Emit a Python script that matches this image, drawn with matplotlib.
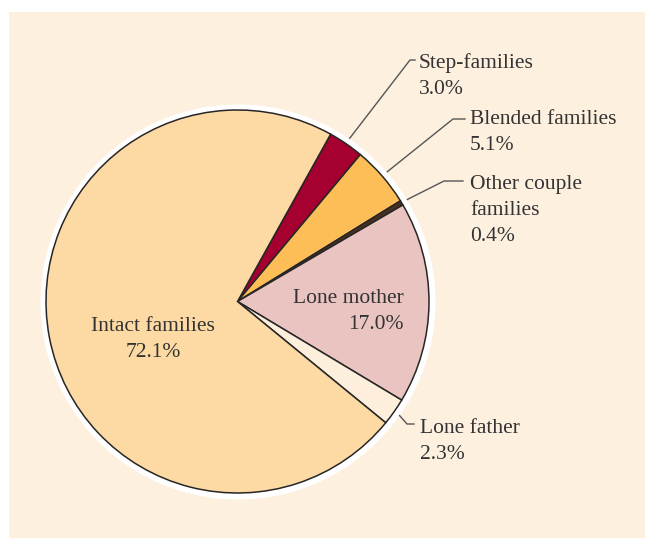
import matplotlib.pyplot as plt
from matplotlib.patches import Rectangle, Circle
import numpy as np

# family types, clockwise from the top
labels = ["Step-families", "Blended families", "Other couple\nfamilies",
          "Lone mother", "Lone father", "Intact families"]
shares = [3.0, 5.1, 0.4, 17.0, 2.3, 72.1]
colors = ["#A5002F", "#FDBE58", "#4a3020", "#E9C4C0", "#FDEFDC", "#FDD9A4"]

W, H = 646, 539
CX, CY, R = 237.5, 237.5, 191.5   # pie centre/radius in pixel units (y up)
START = 60.9

plt.rcParams["font.family"] = ["Liberation Serif", "DejaVu Serif"]
TXT = "#333333"
FS = 15.5
LS = 1.5

fig = plt.figure(figsize=(W / 100, H / 100), dpi=100, facecolor="white")
ax = fig.add_axes([0, 0, 1, 1])

# cream panel and white halo behind the pie
ax.add_patch(Rectangle((9, 1), 636, 526, facecolor="#FDF0DF", edgecolor="none", zorder=0))
ax.add_patch(Circle((CX + 0.5, CY - 0.5), R + 6, facecolor="white", edgecolor="none", zorder=1))

wedges, _ = ax.pie(shares, colors=colors, startangle=START, counterclock=False,
                   center=(CX, CY), radius=R,
                   wedgeprops=dict(edgecolor="#262626", linewidth=1.1))
for w in wedges:
    w.set_zorder(2)

ax.set_xlim(0, W)
ax.set_ylim(0, H)
ax.set_aspect("equal")
ax.axis("off")

# mid-angle of each wedge, used for leader start points
total = sum(shares)
edges = START - 360 * np.cumsum([0] + shares) / total
mids = (edges[:-1] + edges[1:]) / 2


def leader(i, elbow, end_x, text_xy, r_off=1.035):
    a = np.deg2rad(mids[i])
    x0, y0 = CX + R * r_off * np.cos(a), CY + R * r_off * np.sin(a)
    ex, ey = elbow[0], H - elbow[1]
    ax.plot([x0, ex, end_x], [y0, ey, ey], color="#555555", lw=1.0, zorder=3)
    ax.text(text_xy[0], H - text_xy[1], f"{labels[i]}\n{shares[i]:.1f}%",
            ha="left", va="top", fontsize=FS, color=TXT, linespacing=LS, zorder=4)


leader(0, (410, 60), 415, (419, 53))
leader(1, (453, 119), 465, (470, 110))
leader(2, (444, 181), 463, (470, 175))
leader(4, (407, 424), 414, (420, 419))

# labels inside the pie
ax.text(404, H - 289, f"{labels[3]}\n{shares[3]:.1f}%", ha="right", va="top",
        multialignment="right", fontsize=FS, color=TXT, linespacing=LS, zorder=4)
ax.text(153, H - 317, f"{labels[5]}\n{shares[5]:.1f}%", ha="center", va="top",
        multialignment="center", fontsize=FS, color=TXT, linespacing=LS, zorder=4)

fig.savefig("out.png", dpi=100, facecolor="white")
